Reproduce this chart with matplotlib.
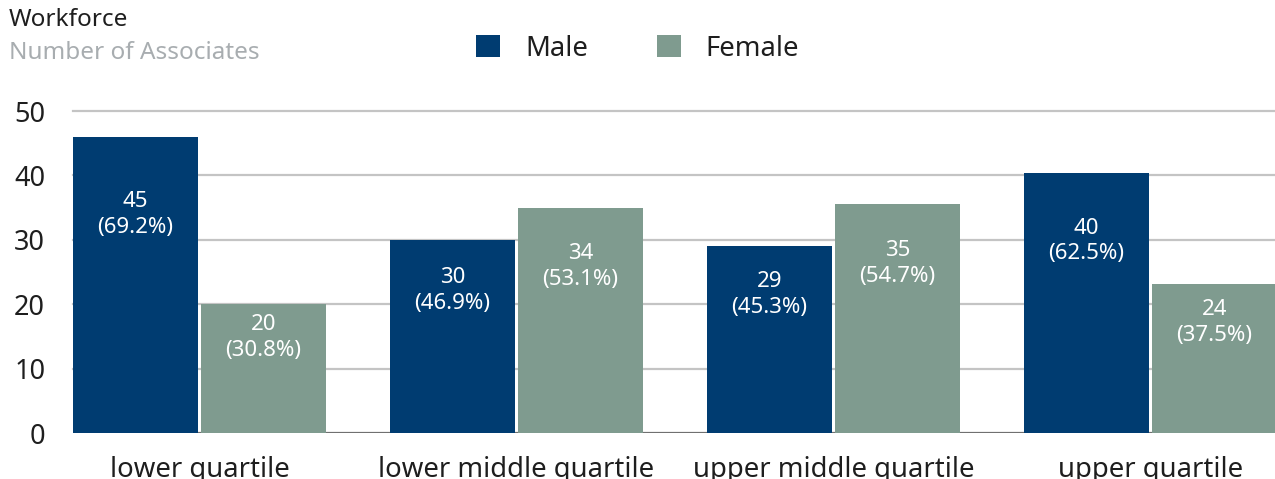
import matplotlib

matplotlib.use("Agg")
import matplotlib.pyplot as plt
import numpy as np
from matplotlib.patches import Patch

plt.rcParams["font.family"] = ["Noto Sans", "DejaVu Sans"]

categories = ["lower quartile", "lower middle quartile", "upper middle quartile", "upper quartile"]
# bar heights as drawn in the reference (slightly off from the printed counts)
male_height = [45.9, 29.9, 29.1, 40.3]
female_height = [20.1, 35.0, 35.6, 23.2]
male_count = [45, 30, 29, 40]
female_count = [20, 34, 35, 24]
male_pct = [69.2, 46.9, 45.3, 62.5]
female_pct = [30.8, 53.1, 54.7, 37.5]
y_ticks = [0, 10, 20, 30, 40, 50]

MALE_C = "#003c71"
FEMALE_C = "#7f9b8f"
GRID_C = "#c4c4c4"
TEXT_C = "#1e1e1e"

W, H = 1275, 479
fig = plt.figure(figsize=(W / 100, H / 100), dpi=100)
ax = fig.add_axes([73 / W, (H - 433) / H, (W - 73) / W + 0.01, (433 - 111) / H])

x = np.arange(len(categories))
bw = 125 / 317
off = 128 / 317 / 2
bars_m = ax.bar(x - off, male_height, bw, color=MALE_C, zorder=3)
bars_f = ax.bar(x + off, female_height, bw, color=FEMALE_C, zorder=3)

for bars, counts, pcts in ((bars_m, male_count, male_pct), (bars_f, female_count, female_pct)):
    for b, c, p in zip(bars, counts, pcts):
        ax.text(
            b.get_x() + b.get_width() / 2,
            b.get_height() * 0.74,
            f"{c}\n({p:.1f}%)",
            ha="center",
            va="center",
            color="white",
            fontsize=16,
            linespacing=1.3,
            zorder=4,
        )

ax.set_xlim(-off - bw / 2, 3 + (W - 1150.5) / 317 + 0.04)
ax.set_ylim(0, 50)
ax.set_yticks(y_ticks)
ax.set_xticks(x)
ax.set_xticklabels(categories)
for v in y_ticks[1:]:
    ax.axhline(v, color=GRID_C, lw=1.6, zorder=1, clip_on=False)
ax.axhline(0, color="#707070", lw=1.6, zorder=2)
for s in ax.spines.values():
    s.set_visible(False)
ax.tick_params(axis="y", length=0, pad=20, labelsize=19.5, labelcolor=TEXT_C)
ax.tick_params(axis="x", length=0, pad=16.5, labelsize=19.8, labelcolor=TEXT_C)

fig.text(9 / W, 1 - 8 / H, "Workforce", fontsize=17.5, color=TEXT_C, va="top", ha="left")
fig.text(9 / W, 1 - 41 / H, "Number of Associates", fontsize=17.5, color="#a8adb0", va="top", ha="left")

handles = [Patch(facecolor=MALE_C, label="Male"), Patch(facecolor=FEMALE_C, label="Female")]
fig.legend(
    handles=handles,
    loc="center",
    bbox_to_anchor=(0.5, 1 - 48.5 / H),
    ncol=2,
    frameon=False,
    fontsize=19.8,
    handlelength=0.88,
    handleheight=0.88,
    handletextpad=0.9,
    columnspacing=2.5,
    labelcolor=TEXT_C,
)

fig.savefig("out.png", dpi=100)
